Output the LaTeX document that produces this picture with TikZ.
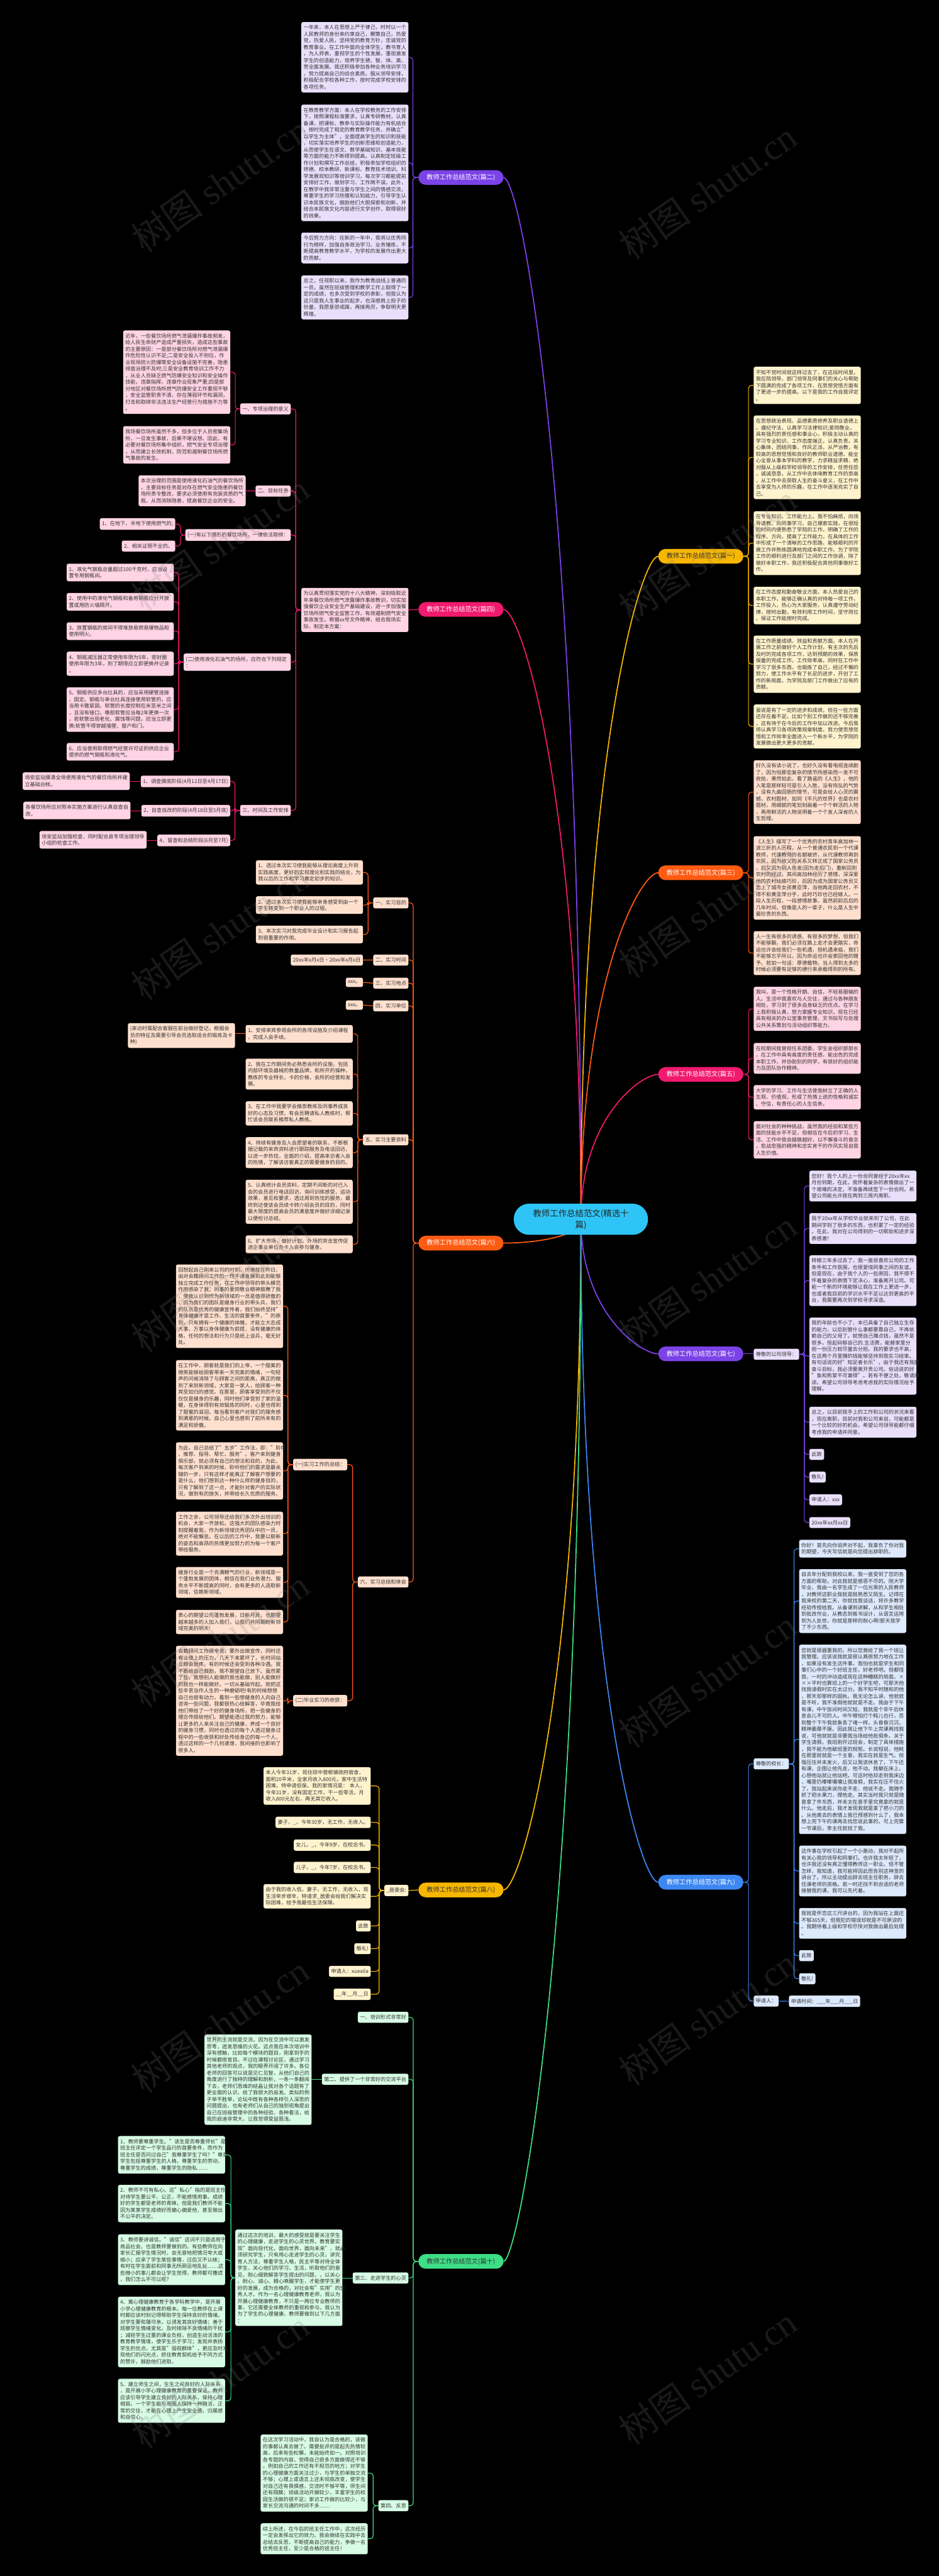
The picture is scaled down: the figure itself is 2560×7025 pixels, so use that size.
\documentclass[tikz,border=0pt]{standalone}
\usepackage{fontspec}
\setmainfont{Noto Sans CJK SC}
\newfontfamily\wmfont{Liberation Serif}
\usepackage{tikz}
\usetikzlibrary{calc}
\definecolor{mapink}{HTML}{333333}
\definecolor{mapcore}{HTML}{2EC5F6}
\definecolor{mappurple}{HTML}{7B42E8}
\definecolor{mappurplebg}{HTML}{E9DFFB}
\definecolor{mappink}{HTML}{F01A6E}
\definecolor{mappinkbg}{HTML}{FFD4E4}
\definecolor{maporange}{HTML}{FF5B12}
\definecolor{maporangebg}{HTML}{FFE0CF}
\definecolor{mapyellow}{HTML}{F7B600}
\definecolor{mapyellowbg}{HTML}{FFF3CE}
\definecolor{mapgreen}{HTML}{3DDE85}
\definecolor{mapgreenbg}{HTML}{D7FBE4}
\definecolor{mapblue}{HTML}{3C87F2}
\definecolor{mapbluebg}{HTML}{DDE9FC}
\newcommand\leaffont{\fontsize{14pt}{18pt}\selectfont}

\begin{document}
\begin{tikzpicture}[x=1pt,y=-1pt,line cap=round,line join=round,
  font=\leaffont,text=mapink,
  leaf/.style={rectangle,rounded corners=5pt,inner xsep=6pt,inner ysep=8.5pt,text width=280pt,align=left},
  tag/.style={rectangle,rounded corners=5pt,inner xsep=6pt,inner ysep=8.5pt},
  branch/.style={rectangle,rounded corners=20pt,minimum width=232pt,minimum height=40pt,inner sep=0pt,font=\fontsize{17.5pt}{20pt}\selectfont},
  wire/.style={line width=2pt,rounded corners=8pt},
  trunk/.style={line width=3pt},
  wmark/.style={rotate=35,text=gray,text opacity=.2,font=\fontsize{100pt}{100pt}\selectfont}]
\path[use as bounding box] (0,0) rectangle (2560,7025);
\fill[black] (0,0) rectangle (2560,7025);
\coordinate (c) at (1584,3325);

% 篇二
\node[branch,fill=mappurple,text=white] (p2) at (1257,484) {教师工作总结范文(篇二)};
\node[leaf,fill=mappurplebg,anchor=north east] (p2a) at (1114,60) {一年来，本人在思想上严于律己，时时以一个\\人民教师的身份来约束自己，鞭策自己，热爱\\党，热爱人民，坚持党的教育方针，忠诚党的\\教育事业。在工作中面向全体学生，教书育人\\，为人师表，重视学生的个性发展，重视激发\\学生的创造能力，培养学生德、智、体、美、\\劳全面发展。我还积极参加各种业务培训学习\\，努力提高自己的综合素质。服从领导安排，\\积极配合学校各种工作，按时完成学校安排的\\各项任务。};
\node[leaf,fill=mappurplebg,anchor=north east] (p2b) at (1114,285) {在教育教学方面：本人在学校教务的工作安排\\下，按照课程标准要求，认真专研教材，认真\\备课，把课标、教参与实际操作能力有机结合\\，按时完成了规定的教育教学任务，并确立"\\以学生为主体"，全面提高学生的知识和技能\\，切实落实培养学生的创新思维和创造能力，\\从而使学生在语文、数学基础知识、基本技能\\等方面的能力不断得到提高。认真制定班级工\\作计划和撰写工作总结，积极参加学校组织的\\师德、校本教研、新课标、教育技术培训、科\\学发展观知识等培训学习，每次学习都能提前\\安排好工作，做到学习、工作两不误。此外，\\在教学中我非常注重与学生之间的情感交流，\\尊重学生的学习热情和认知能力，引导学生认\\识本民族文化，鼓励他们大胆探索和创新，并\\结合本民族文化内容进行文学创作，取得很好\\的效果。};
\node[leaf,fill=mappurplebg,anchor=north east] (p2c) at (1114,634) {今后努力方向：在新的一年中，我将以优秀同\\行为榜样，加强自身政治学习、业务锤炼，不\\断提高教育教学水平，为学校的发展作出更大\\的贡献。};
\node[leaf,fill=mappurplebg,anchor=north east] (p2d) at (1114,751) {总之，任现职以来，我作为教育战线上普通的\\一员，虽然在班级管理和教学工作上取得了一\\定的成绩，也多次受到学校的表彰，但我认为\\这只是我人生事业的起步，也深感肩上担子的\\份量，我愿意骄戒躁，再接再厉，争取明天更\\辉煌。};
\foreach \n in {p2a,p2b,p2c,p2d}
  \draw[wire,mappurple] (p2.west) -- ++(-15,0) |- (\n.east);

% 篇四
\node[branch,fill=mappink,text=white] (p4) at (1257,1662) {教师工作总结范文(篇四)};
\node[leaf,fill=mappinkbg,anchor=north east] (p4m) at (1114,1603) {为认真贯彻落实党的十八大精神，深刻吸取近\\年来餐饮场所燃气泄露爆炸事故教训，切实加\\强餐饮企业安全生产基础建设，进一步加强餐\\饮场所燃气安全监管工作，有效遏制燃气安全\\事故发生。根据xx号文件精神，结合我场实\\际，制定本方案：};
\node[tag,fill=mappinkbg,anchor=north east] (p4s1) at (793,1100) {一、专项治理的意义};
\node[leaf,fill=mappinkbg,anchor=north east] (p4s1a) at (628,901) {近年，一些餐饮场所燃气泄漏爆炸事故频发，\\给人民生命财产造成严重损失，造成这些事故\\的主要原因：一是部分餐饮场所对燃气泄漏爆\\炸危险性认识不足;二是安全投入不到位，作\\业现场防火防爆等安全设备设施不完善，隐患\\排查治理不及时;三是安全教育培训工作不力\\，从业人员缺乏燃气防爆安全知识和安全操作\\技能，违章指挥、违章作业现象严重;四是部\\分地区对餐饮场所燃气防爆安全工作重视不够\\，安全监管职责不清、存在薄弱环节和漏洞，\\打击和取缔非法违法生产经营行为措施不力等\\。};
\node[leaf,fill=mappinkbg,anchor=north east] (p4s1b) at (628,1162) {我场餐饮场所虽然不多，但多位于人员密集场\\所，一旦发生事故，后果不堪设想。因此，有\\必要对餐饮场所集中组织，燃气安全专项治理\\，从而建立长效机制，防范和遏制餐饮场所燃\\气事故的发生。};
\node[tag,fill=mappinkbg,anchor=north east] (p4s2) at (793,1324) {二、目标任务};
\node[leaf,fill=mappinkbg,anchor=north east] (p4s2a) at (670,1296) {本次治理的范围是使用液化石油气的餐饮场所\\，主要目标任务是对存在燃气安全隐患的餐饮\\场所责令整改，要求必须使用有充装资质的气\\瓶，从而消除隐患，提高餐饮企业的安全。};
\node[tag,fill=mappinkbg,anchor=north east] (p4s3) at (793,1443) {(一)有以下情形的餐饮场所，一律依法取缔：};
\node[tag,fill=mappinkbg,anchor=north east] (p4s3a) at (478,1413) {1、在地下、半地下使用燃气的;};
\node[tag,fill=mappinkbg,anchor=north east] (p4s3b) at (478,1474) {2、相关证照不全的。};
\node[leaf,fill=mappinkbg,anchor=north east] (p4s4) at (793,1782) {(二)使用液化石油气的场所，应符合下列规定\\：};
\node[leaf,fill=mappinkbg,anchor=north east] (p4s4a) at (474,1537) {1、液化气钢瓶总量超过100千克时，应当设\\置专用钢瓶间。};
\node[leaf,fill=mappinkbg,anchor=north east] (p4s4b) at (474,1617) {2、使用中的液化气钢瓶和备用钢瓶应分开放\\置或用防火墙隔开。};
\node[leaf,fill=mappinkbg,anchor=north east] (p4s4c) at (474,1697) {3、放置钢瓶的房间不得堆放易燃易爆物品和\\使用明火。};
\node[leaf,fill=mappinkbg,anchor=north east] (p4s4d) at (474,1777) {4、钢瓶减压器正常使用年限为5年，密封圈\\使用年限为3年，到了期限应立即更换并记录\\。};
\node[leaf,fill=mappinkbg,anchor=north east] (p4s4e) at (474,1874) {5、钢瓶供应多台灶具的，应当采用硬管连接\\、固定。钢瓶与单台灶具连接使用软管的，应\\当用卡箍紧固，软管的长度控制在米至米之间\\，且没有接口，橡胶软管应当每2年更换一次\\，若软管出现老化、腐蚀等问题，应当立即更\\换;软管不得穿越墙壁、窗户和门。};
\node[leaf,fill=mappinkbg,anchor=north east] (p4s4f) at (474,2026) {6、应当使用取得燃气经营许可证的供应企业\\提供的燃气钢瓶和液化气。};
\node[tag,fill=mappinkbg,anchor=north east] (p4s5) at (793,2195) {三、时间及工作安排};
\node[tag,fill=mappinkbg,anchor=north east] (p4s5a) at (628,2115) {1、调查摸底阶段(4月12日至4月17日)};
\node[tag,fill=mappinkbg,anchor=north east] (p4s5b) at (628,2195) {2、自查自改的阶段(4月18日至5月底)};
\node[tag,fill=mappinkbg,anchor=north east] (p4s5c) at (628,2276) {4、督查和总结阶段(6月至7月)};
\node[leaf,fill=mappinkbg,anchor=north east] (p4s5aa) at (354,2106) {场安监站摸清全场使用液化气的餐饮场所并建\\立基础台帐。};
\node[leaf,fill=mappinkbg,anchor=north east] (p4s5ba) at (356,2186) {各餐饮场所应对照本实施方案进行认真自查自\\改。};
\node[leaf,fill=mappinkbg,anchor=north east] (p4s5ca) at (400,2266) {场安监站加强检查，同时配合县专项治理领导\\小组的检查工作。};
\draw[wire,mappink] (p4.west) -- (p4m.east);
\foreach \n in {p4s1,p4s2,p4s3,p4s4,p4s5}
  \draw[wire,mappink] (p4m.west) -- ++(-15,0) |- (\n.east);
\foreach \n in {p4s1a,p4s1b}
  \draw[wire,mappink] (p4s1.west) -- ++(-13,0) |- (\n.east);
\draw[wire,mappink] (p4s2.west) -- (p4s2a.east);
\foreach \n in {p4s3a,p4s3b}
  \draw[wire,mappink] (p4s3.west) -- ++(-13,0) |- (\n.east);
\foreach \n in {p4s4a,p4s4b,p4s4c,p4s4d,p4s4e,p4s4f}
  \draw[wire,mappink] (p4s4.west) -- ++(-13,0) |- (\n.east);
\foreach \n in {p4s5a,p4s5b,p4s5c}
  \draw[wire,mappink] (p4s5.west) -- ++(-14,0) |- (\n.east);
\draw[wire,mappink] (p4s5a.west) -- (p4s5a.west -| p4s5aa.east);
\draw[wire,mappink] (p4s5b.west) -- (p4s5b.west -| p4s5ba.east);
\draw[wire,mappink] (p4s5c.west) -- (p4s5c.west -| p4s5ca.east);

% 篇六
\node[branch,fill=maporange,text=white] (p6) at (1257,3390) {教师工作总结范文(篇六)};
\node[tag,fill=maporangebg,anchor=north east] (p6s1) at (1114,2447) {一、实习目的};
\node[leaf,fill=maporangebg,anchor=north east] (p6s1a) at (990,2346) {1、透过本次实习使我能够从理论高度上升到\\实践高度，更好的实现理论和实践的结合，为\\我以后的工作和学习奠定初步的知识。};
\node[leaf,fill=maporangebg,anchor=north east] (p6s1b) at (990,2444) {2、透过本次实习使我能够亲身感受到由一个\\学生转变到一个职业人的过程。};
\node[leaf,fill=maporangebg,anchor=north east] (p6s1c) at (990,2524) {3、本次实习对我完成毕业设计和实习报告起\\到很重要的作用。};
\node[tag,fill=maporangebg,anchor=north east] (p6s2) at (1114,2603) {二、实习时间};
\node[tag,fill=maporangebg,anchor=north east] (p6s2a) at (990,2603) {20xx年x月x日 \textasciitilde{} 20xx年x月x日};
\node[tag,fill=maporangebg,anchor=north east] (p6s3) at (1114,2666) {三、实习地点};
\node[tag,fill=maporangebg,anchor=north east] (p6s3a) at (990,2666) {xxx。};
\node[tag,fill=maporangebg,anchor=north east] (p6s4) at (1114,2728) {四、实习单位};
\node[tag,fill=maporangebg,anchor=north east] (p6s4a) at (990,2728) {xxx。};
\node[tag,fill=maporangebg,anchor=north east] (p6s5) at (1114,3093) {五、实习主要资料};
\node[leaf,fill=maporangebg,anchor=north east] (p6s5a) at (962,2795) {1、安排来宾参观会所的各项设施及介绍课程\\，完成入会手续。};
\node[leaf,fill=maporangebg,anchor=north east] (p6s5aa) at (641,2790) {(来访时需配合客服在前台做好登记，根据会\\员的特征及需要引导会员选取适合的锻炼及卡\\种)};
\node[leaf,fill=maporangebg,anchor=north east] (p6s5b) at (962,2887) {2、我在工作期间务必熟悉会所的设施，包括\\内部环境及器械的数量品牌，和所开的操种，\\教练的专业特长，卡的价格，会所的经营和发\\展。};
\node[leaf,fill=maporangebg,anchor=north east] (p6s5c) at (962,3003) {3、在工作中我要学会推崇教练及同事养成良\\好的心态及习惯，有会员聘请私人教练时，帮\\忙该会员联系推荐私人教练。};
\node[leaf,fill=maporangebg,anchor=north east] (p6s5d) at (962,3101) {4、持续有健身及入会愿望者的联系，不断根\\据记载的来宾资料进行跟踪服务及电话回访，\\以进一步热忱，全面的介绍，提高来访者入会\\的热情，了解该访客真正的需要健身的目的。};
\node[leaf,fill=maporangebg,anchor=north east] (p6s5e) at (962,3217) {5、认真统计会员资料，定期不间断的对已入\\会的会员进行电话回访，询问训练感受，运动\\效果，意见和要求，透过周到热忱的服务，最\\终到达使该会员续卡转介绍会员的目的，同时\\最大限度的提高会员的满意度并做好详细记录\\以便检讨总结。};
\node[leaf,fill=maporangebg,anchor=north east] (p6s5f) at (962,3369) {6、扩大市场，做好计划，外场的突击宣传促\\进企事业单位办卡入会参与健身。};
\node[tag,fill=maporangebg,anchor=north east] (p6s6) at (1114,4299) {六、实习总结和体会};
\node[tag,fill=maporangebg,anchor=north east] (p6s6a) at (947,3978) {(一)实习工作的总结：};
\node[leaf,fill=maporangebg,anchor=north east] (p6s6aa) at (772,3448) {回想起自己刚来公司的时刻，仿佛就在昨日。\\由对会籍顾问工作的一窍不通发展到此刻能够\\独立完成工作任务，在工作中领导的带头模范\\作用感染了我，同事的爱岗敬业精神鼓舞了我\\，使我认识到作为新领域的一员是值得骄傲的\\，因为我们的团队是健身行业的带头兵，我们\\的队员是优秀的健康宣传者，我们始终坚持"\\身体健康才是工作、生活的首要条件，"的原\\则，只有拥有一个健康的体魄，才能立大志成\\大事，万事以身体健康为前提，没有健康的体\\格，任何的想法和行为只是纸上谈兵，毫无好\\处。};
\node[leaf,fill=maporangebg,anchor=north east] (p6s6ab) at (772,3709) {在工作中，顾客就是我们的上帝，一个甜美的\\微笑能够给顾客带来一天完美的情绪，一句轻\\声的问候消除了与顾客之间的距离，真正的做\\到了来到新领域，大家是一家人，给顾客一种\\宾至如归的感觉。在那里，顾客享受到的不仅\\仅仅是健身的乐趣，同时他们享受到了家的温\\暖，在身体得到有效锻炼的同时，心里也得到\\了甜蜜的滋润，每当看到客户对我们的服务感\\到满意的时候，自己心里也感到了前所未有的\\满足和骄傲。};
\node[leaf,fill=maporangebg,anchor=north east] (p6s6ac) at (772,3933) {为此，自己总结了"五步"工作法，即："聆听\\、推荐、指导、帮忙、服务"。客户来到健身\\俱乐部，就必须有自己的想法和目的，为此，\\每次客户到来的时候，聆听他们的需求是最关\\键的一步，只有这样才能真正了解客户想要的\\是什么，他们想到达一种什么样的健身目的，\\只有了解到了这一点，才能针对客户的实际状\\况，做到有的放矢，并带给长久优质的服务。};
\node[leaf,fill=maporangebg,anchor=north east] (p6s6ad) at (772,4122) {工作之余，公司领导还给我们多次外出培训的\\机会，大家一齐放松。这强大的团队感染力时\\刻提醒着我，作为新领域优秀团队中的一员，\\绝对不能懈怠。在以后的工作中，我要以崭新\\的姿态和高昂的热情更加努力的为每一个客户\\带给服务。};
\node[leaf,fill=maporangebg,anchor=north east] (p6s6ae) at (772,4273) {健身行业是一个充满朝气的行业，新领域是一\\个蓬勃发展的团体，相信在我们业务潜力、服\\务水平不断提高的同时，会有更多的人选取新\\领域，信赖新领域。};
\node[leaf,fill=maporangebg,anchor=north east] (p6s6af) at (772,4390) {衷心的期望公司蓬勃发展，日新月异，也期望\\越来越多的人加入我们，让我们共同期盼新领\\域完美的明天!};
\node[tag,fill=maporangebg,anchor=north east] (p6s6b) at (947,4622) {(二)毕业实习的收获：};
\node[leaf,fill=maporangebg,anchor=north east] (p6s6ba) at (772,4488) {会籍顾问工作很辛苦，要外出做宣传，同时还\\有业绩上的压力，几天下来累坏了，长时间站\\立脚会很疼。有的时候还会受到各种冷遇。我\\不断给自己鼓励，我不期望自己放下。虽然累\\了些，我想别人能做的我也能做，别人能做好\\的我也一样能做好。一切从基础作起。就把这\\些辛苦当作人生的一种磨砺吧!有的时候想想\\自己也很有动力，看到一些想健身的人向自己\\咨询一些问题，我都很热心给解答，毕竟我给\\他们带给了一个好的健身场所，把一些健身的\\理念传授给他们。期望能透过我的努力，能够\\让更多的人来关注自己的健康，养成一个良好\\的健身习惯，同时也透过的每个人透过健身过\\程中的一些收获和好处传给身边的每一个人，\\透过这样的一个几何递增，我间接的也影响了\\很多人。};
\foreach \n in {p6s1,p6s2,p6s3,p6s4,p6s5,p6s6}
  \draw[wire,maporange] (p6.west) -- ++(-14,0) |- (\n.east);
\foreach \n in {p6s1a,p6s1b,p6s1c}
  \draw[wire,maporange] (p6s1.west) -- ++(-14,0) |- (\n.east);
\draw[wire,maporange] (p6s2.west) -- (p6s2a.east);
\draw[wire,maporange] (p6s3.west) -- (p6s3a.east);
\draw[wire,maporange] (p6s4.west) -- (p6s4a.east);
\foreach \n in {p6s5a,p6s5b,p6s5c,p6s5d,p6s5e,p6s5f}
  \draw[wire,maporange] (p6s5.west) -- ++(-14,0) |- (\n.east);
\draw[wire,maporange] (p6s5a.west) -- (p6s5a.west -| p6s5aa.east);
\foreach \n in {p6s6a,p6s6b}
  \draw[wire,maporange] (p6s6.west) -- ++(-14,0) |- (\n.east);
\foreach \n in {p6s6aa,p6s6ab,p6s6ac,p6s6ad,p6s6ae,p6s6af}
  \draw[wire,maporange] (p6s6a.west) -- ++(-14,0) |- (\n.east);
\draw[wire,maporange] (p6s6b.west) -- ++(-14,0) |- (p6s6ba.east);

% 篇八
\node[branch,fill=mapyellow] (p8) at (1257,5154) {教师工作总结范文(篇八)};
\node[tag,fill=mapyellowbg,anchor=north east] (p8s) at (1114,5140) {\_居委会:};
\node[leaf,fill=mapyellowbg,anchor=north east] (p8sa) at (1011,4819) {本人今年31岁，现住琼中营根镇政府宿舍，\\面积20平米，全家月收入800元，家中生活特\\困难，特申请低保。我的家情况是： 本人，\\今年31岁，没有固定工作，干一些零活，月\\收入800元左右，再无其它收入。};
\node[tag,fill=mapyellowbg,anchor=north east] (p8sb) at (1011,4954) {妻子，\_，今年30岁，无工作，无收入。};
\node[tag,fill=mapyellowbg,anchor=north east] (p8sc) at (1011,5016) {女儿，\_，今年9岁，在校念书。};
\node[tag,fill=mapyellowbg,anchor=north east] (p8sd) at (1011,5077) {儿子，\_，今年7岁，在校念书。};
\node[leaf,fill=mapyellowbg,anchor=north east] (p8se) at (1011,5138) {由于我的收入低，妻子，无工作，无收入，现\\生活举步艰辛，特请求\_居委会给我们解决实\\际困难，给予我最低生活保障。};
\node[tag,fill=mapyellowbg,anchor=north east] (p8sf) at (1011,5237) {此致};
\node[tag,fill=mapyellowbg,anchor=north east] (p8sg) at (1011,5299) {敬礼!};
\node[tag,fill=mapyellowbg,anchor=north east] (p8sh) at (1011,5361) {申请人：xuexila};
\node[tag,fill=mapyellowbg,anchor=north east] (p8si) at (1011,5423) {\_\_年\_\_月\_\_日};
\draw[wire,mapyellow] (p8.west) -- (p8s.east);
\foreach \n in {p8sa,p8sb,p8sc,p8sd,p8se,p8sf,p8sg,p8sh,p8si}
  \draw[wire,mapyellow] (p8s.west) -- ++(-14,0) |- (\n.east);

% 篇十
\node[branch,fill=mapgreen] (p10) at (1257,6167) {教师工作总结范文(篇十)};
\node[tag,fill=mapgreenbg,anchor=north east] (p10s1) at (1114,5486) {一、培训形式非常好};
\node[tag,fill=mapgreenbg,anchor=north east] (p10s2) at (1114,5655) {第二、提供了一个非常好的交流平台};
\node[leaf,fill=mapgreenbg,anchor=north east] (p10s2a) at (850,5548) {世界的主流就是交流，因为在交流中可以激发\\思考，迸发思维的火花。这点我在本次培训中\\深有感触，比如每个模块的题目，刚拿到手的\\时候都很盲目，不过在课程讨论区，通过学习\\其他老师的观点，我的眼界开阔了许多。各位\\老师的回答可以说是见仁见智，从他们自己的\\角度进行了独特的理解和剖析，一条一条翻阅\\下去，老师们思维的结晶让我对各个话题有了\\更全面的认识，给了我很大的启发。类似的例\\子举不胜举，论坛中既有各种各样引人深思的\\问题提出，也有老师们从自己的独到视角提出\\自己在班级管理中的各种经验，各种看法，给\\我的启迪非常大，让我觉得受益匪浅。};
\node[tag,fill=mapgreenbg,anchor=north east] (p10s3) at (1114,6197) {第三、走进学生的心灵};
\node[leaf,fill=mapgreenbg,anchor=north east] (p10s3a) at (934,6080) {通过这次的培训，最大的感受就是要关注学生\\的心理健康，走进学生的心灵世界。教育要实\\现"面向现代化，面向世界，面向未来"，就必\\须研究学生，只有用心走进学生的心灵，讲究\\育人方法，尊重学生人格，民主平等对待全体\\学生，关心他们的学习、生活，听取他们的意\\见，耐心细致解答学生提出的问题，，以关心\\、耐心、诚心、精心唤醒学生，才能使学生更\\好的发展，成为合格的，对社会有"实用"的优\\秀人才。作为一名心理健康教育老师，我认为\\开展心理健康教育，不只是一两位专业教师的\\事，它还需要全体教师的重视和参与。我认为\\为了学生的心理健康，教师要做到以下几方面\\：};
\node[leaf,fill=mapgreenbg,anchor=north east] (p10s3aa) at (614,5825) {1、教师要尊重学生。"该生是否尊重师长"是\\班主任评定一个学生品行的首要条件，而作为\\班主任是否问过自己"我尊重学生了吗？"尊重\\学生包括尊重学生的人格，尊重学生的劳动，\\尊重学生的成绩，尊重学生的隐私……};
\node[leaf,fill=mapgreenbg,anchor=north east] (p10s3ab) at (614,5958) {2、教师不可有私心。这"私心"指的是班主任\\对待学生要公平、公正，不能感情用事。成绩\\好的学生都受老师的青睐，但是我们教师不能\\因为某某学生成绩好而偏心偏爱他，甚至做出\\不公平的决定。};
\node[leaf,fill=mapgreenbg,anchor=north east] (p10s3ac) at (614,6093) {3、教师要讲诚信。"诚信"这词不只是适用于\\商品社会，也是教师要做到的。有些教师在向\\家长汇报学生情况时，会无意地把情况夸大或\\缩小；应承了学生某些事情，过后又不认帐；\\有时在学生面前和同事无所顾忌地乱扯……这\\些微小的事儿都会让学生觉得，教师都可撒谎\\，我们怎么不可以呢？};
\node[leaf,fill=mapgreenbg,anchor=north east] (p10s3ad) at (614,6263) {4、寓心理健康教育于各学科教学中，是开展\\小学心理健康教育的根本。每一位教师在上课\\时都应该时刻记得帮助学生保持良好的情绪。\\对学生要和蔼可亲，以诱发其良好情绪；善于\\观察学生情绪变化，及时排除不良情绪的干扰\\；减轻学生过重的课业负担，创造生动活泼的\\教育教学情境，使学生乐于学习；发现并表扬\\学生的优点，尤其是"弱视群体"，更应及时发\\现他们的闪光点，抓住教育契机给予不同方式\\的赞许，鼓励他们进取。};
\node[leaf,fill=mapgreenbg,anchor=north east] (p10s3ae) at (614,6487) {5、建立师生之间，生生之间良好的人际关系\\，是开展小学心理健康教育的重要保证。教师\\应该引导学生建立良好的人际关系，保持心理\\相容。一个学生能与周围人保持一种融洽，正\\常的交往，才能在心理上产生安全感，归属感\\和自信心。};
\node[tag,fill=mapgreenbg,anchor=north east] (p10s4) at (1114,6818) {第四、反思};
\node[leaf,fill=mapgreenbg,anchor=north east] (p10s4a) at (1003,6639) {在这次学习活动中，我自认为是合格的，该做\\的事都认真去做了。需要批评的是起先热情较\\高，后来有些松懈，未能始终如一。对照培训\\各专题的内容，觉得自己很多方面做得还不够\\。例如自己的工作还有不规范的地方；对学生\\的心理健康方面关注过少，与学生的单独交流\\不够；心理上或语言上还未彻底改变，使学生\\对自己还有畏惧感，交流时不够平等，师生间\\还有隔膜；班级活动开展较少，丰富学生的校\\园生活做的很不足；家访工作做的比较少，与\\家长交流沟通的时间不多……};
\node[leaf,fill=mapgreenbg,anchor=north east] (p10s4b) at (1003,6881) {综上所述，在今后的班主任工作中，这次经历\\一定会发挥出它的效力。我会继续在实践中去\\总结去反思，不断提高自己的能力，争做一名\\优秀班主任，至少是合格的班主任！};
\foreach \n in {p10s1,p10s2,p10s3,p10s4}
  \draw[wire,mapgreen] (p10.west) -- ++(-14,0) |- (\n.east);
\draw[wire,mapgreen] (p10s2.west) -- (p10s2.west -| p10s2a.east);
\draw[wire,mapgreen] (p10s3.west) -- (p10s3.west -| p10s3a.east);
\foreach \n in {p10s3aa,p10s3ab,p10s3ac,p10s3ad,p10s3ae}
  \draw[wire,mapgreen] (p10s3a.west) -- ++(-12,0) |- (\n.east);
\foreach \n in {p10s4a,p10s4b}
  \draw[wire,mapgreen] (p10s4.west) -- ++(-14,0) |- (\n.east);

% 篇一
\node[branch,fill=mapyellow] (p1) at (1911,1517) {教师工作总结范文(篇一)};
\node[leaf,fill=mapyellowbg,anchor=north west] (p1a) at (2055,1000) {不知不觉时间就这样过去了，在这段时间里，\\我在院领导、部门领导及同事们的关心与帮助\\下圆满的完成了各项工作，在思想觉悟方面有\\了更进一步的提高。以下是我的工作自我评定\\。};
\node[leaf,fill=mapyellowbg,anchor=north west] (p1b) at (2055,1133) {在思想政治表现、品德素质修养及职业道德上\\。遵纪守法，认真学习法律知识;爱岗敬业，\\具有强烈的责任感和事业心，积极主动认真的\\学习专业知识，工作态度端正，认真负责。关\\心集体，团结同事，作风正派，从严治教，有\\较高的思想觉悟和良好的教师职业道德。能全\\心全意从事本学科的教学，力求精益求精，绝\\对服从上级和学校领导的工作安排，任劳任怨\\，诚诚恳恳，从工作中去体味教育工作的崇高\\，从工作中去获取人生的奋斗意义，在工作中\\去享受为人师的乐趣，在工作中逐渐充实了自\\己。};
\node[leaf,fill=mapyellowbg,anchor=north west] (p1c) at (2055,1394) {在专业知识、工作能力上。我不怕麻烦，向领\\导请教、向同事学习、自己摸索实践，在很短\\的时间内便熟悉了学院的工作，明确了工作的\\程序、方向，提高了工作能力，在具体的工作\\中形成了一个清晰的工作思路，能够顺利的开\\展工作并熟练圆满地完成本职工作。为了学院\\工作的顺利进行及部门之间的工作协调，除了\\做好本职工作，我还积极配合其他同事做好工\\作。};
\node[leaf,fill=mapyellowbg,anchor=north west] (p1d) at (2055,1600) {在工作态度和勤奋敬业方面。本人热爱自己的\\本职工作，能够正确认真的对待每一项工作，\\工作投入，热心为大家服务，认真遵守劳动纪\\律，按时出勤，有效利用工作时间，坚守岗位\\，保证工作能按时完成。};
\node[leaf,fill=mapyellowbg,anchor=north west] (p1e) at (2055,1733) {在工作质量成绩、效益和贡献方面。本人在开\\展工作之前做好个人工作计划，有主次的先后\\及时的完成各项工作，达到预期的效果，保质\\保量的完成工作，工作效率高，同时在工作中\\学习了很多东西，也锻炼了自己，经过不懈的\\努力，使工作水平有了长足的进步，开创了工\\作的新局面，为学院及部门工作做出了应有的\\贡献。};
\node[leaf,fill=mapyellowbg,anchor=north west] (p1f) at (2055,1921) {虽说是有了一定的进步和成绩，但在一些方面\\还存在着不足。比如个别工作做的还不够完善\\，这有待于在今后的工作中加以改进。今后我\\将认真学习各项政策规章制度，努力使思想觉\\悟和工作效率全面进入一个新水平，为学院的\\发展做出更大更多的贡献。};
\foreach \n in {p1a,p1b,p1c,p1d,p1e,p1f}
  \draw[wire,mapyellow] (p1.east) -- ++(14,0) |- (\n.west);

% 篇三
\node[branch,fill=maporange,text=white] (p3) at (1911,2380) {教师工作总结范文(篇三)};
\node[leaf,fill=maporangebg,anchor=north west] (p3a) at (2055,2073) {好久没有读小说了，也好久没有看电视连续剧\\了，因为怕那些复杂的情节所感染而一发不可\\收拾，果然如此，看了路遥的《人生》，他的\\入笔是那样轻可是引人入胜，没有恢弘的气势\\，没有九曲回肠的情节，可是会给人心灵的震\\撼，农村题材，如同《平凡的世界》也是农村\\题材，用细腻的笔划刻画着一个个鲜活的人物\\，再用鲜活的人物说明着一个个发人深省的人\\生哲理。};
\node[leaf,fill=maporangebg,anchor=north west] (p3b) at (2055,2280) {《人生》描写了一个优秀的农村青年高加林一\\波三折的人历程，从一个普通农民到一个代课\\教师，代课教师的名额被挤，从代课教师再到\\农民，因为叔父的关系又转正成了国家公务员\\，后又因为别人告发(因为走后门)，重新回到\\农村的经过。其间高加林经历了感情，深深爱\\他的农村姑娘巧珍，后因为成为国家公务员又\\恋上了城市女孩黄亚萍，当他再走回农村，不\\得不和黄亚萍分手，此时巧珍也已经嫁人。一\\段人生历程，一段感情故事，虽然前前后后的\\几年时间，但像是人的一辈子，什么是人生中\\最珍贵的东西。};
\node[leaf,fill=maporangebg,anchor=north west] (p3c) at (2055,2539) {人一生有很多的诱惑、有很多的梦想，但我们\\不能够飘，我们必须在路上走才会更踏实，命\\运也许会给我们一些机遇，但机遇来临，我们\\不能够忘乎所以，因为命运也许会索回他的赠\\予。就如一句话：厚德载物。当人得到太多的\\时候必须要有足够的德行来承载得到的所有。};
\foreach \n in {p3a,p3b,p3c}
  \draw[wire,maporange] (p3.east) -- ++(14,0) |- (\n.west);

% 篇五
\node[branch,fill=mappink,text=white] (p5) at (1911,2930) {教师工作总结范文(篇五)};
\node[leaf,fill=mappinkbg,anchor=north west] (p5a) at (2055,2691) {我叫，是一个性格开朗、自信，不轻易服输的\\人。生活中我喜欢与人交往，通过与各种朋友\\相处，学习到了很多自身缺乏的优点。在学习\\上我积极认真，努力掌握专业知识，现在已经\\具有相关的办公室事务管理、文书拟写与处理\\公共关系策划与活动组织等能力。};
\node[leaf,fill=mappinkbg,anchor=north west] (p5b) at (2055,2844) {在校期间我曾担任系团委、学生会组织部部长\\，在工作中具有高度的责任感，能出色的完成\\本职工作，并协助别的同学，有很好的组织能\\力及团队协作精神。};
\node[leaf,fill=mappinkbg,anchor=north west] (p5c) at (2055,2959) {大学的学习、工作与生活使我树立了正确的人\\生观、价值观，形成了热情上进的性格和诚实\\、守信，有责任心的人生信条。};
\node[leaf,fill=mappinkbg,anchor=north west] (p5d) at (2055,3057) {面对社会的种种挑战，虽然我的经验和某些方\\面的技能水平不足，但相信在今后的学习、生\\活、工作中我会越做越好，以不懈奋斗的意念\\，愈战愈强的精神和忠实肯干的作风实现自我\\人生价值。};
\foreach \n in {p5a,p5b,p5c,p5d}
  \draw[wire,mappink] (p5.east) -- ++(14,0) |- (\n.west);

% 篇七
\node[branch,fill=mappurple,text=white] (p7) at (1911,3692) {教师工作总结范文(篇七)};
\node[tag,fill=mappurplebg,anchor=north west] (p7s) at (2055,3678) {尊敬的公司领导：};
\node[leaf,fill=mappurplebg,anchor=north west] (p7sa) at (2207,3192) {您好！我个人的上一份合同曾经于20xx年xx\\月份到期，在此，我怀着复杂的表情做出了一\\个艰难的决定，不准备再续签下一份合同。希\\望公司能允许我在两到三周内离职。};
\node[leaf,fill=mappurplebg,anchor=north west] (p7sb) at (2207,3308) {我于20xx年从学校毕业就来到了公司，在此\\期间学到了很多的东西，也积累了一定的经验\\。在此，我对在公司得到的一切帮助和进步深\\表感激！};
\node[leaf,fill=mappurplebg,anchor=north west] (p7sc) at (2207,3423) {转眼三年多过去了，我一直很喜欢公司的工作\\条件和工作氛围，也很爱惜同事之间的友谊。\\但是现在，由于我个人的一些原因，我不得不\\怀着复杂的表情下定决心，准备离开公司。可\\能一个新的环境能够让我在工作上更进一步，\\也或者我目前的学识水平不足以达到更高的平\\台，我需要再次到学校寻求深造。};
\node[leaf,fill=mappurplebg,anchor=north west] (p7sd) at (2207,3593) {我的年龄也不小了，本已具备了自己独立生存\\的能力，以后别管什么事都要靠自己，不再依\\赖自己的父母了。就想自己赚点钱，虽然不是\\很多，但起码够自己的.生活费，能替家里分\\担一份压力就尽量去分担。我的要求也不高，\\在这两个月里赚的钱能够坚持到我实习结束。\\有句话说的好"知足者长乐"。由于我还有我的\\奋斗目标，我必须要离开贵公司。俗话说的好\\"鱼和熊掌不可兼得"。若有不便之处，敬请原\\谅。希望公司领导考虑考虑我的实际情况给予\\理解。};
\node[leaf,fill=mappurplebg,anchor=north west] (p7se) at (2207,3836) {总之，以目前我手上的工作和公司的状况来看\\，现在离职，目前对我和公司来说，可能都是\\一个比较的好的机会。希望公司领导能都仔细\\考虑我的申请并同意。};
\node[tag,fill=mappurplebg,anchor=north west] (p7sf) at (2207,3951) {此致};
\node[tag,fill=mappurplebg,anchor=north west] (p7sg) at (2207,4013) {敬礼!};
\node[tag,fill=mappurplebg,anchor=north west] (p7sh) at (2207,4075) {申请人：xxx};
\node[tag,fill=mappurplebg,anchor=north west] (p7si) at (2207,4137) {20xx年xx月xx日};
\draw[wire,mappurple] (p7.east) -- (p7.east -| p7s.west);
\foreach \n in {p7sa,p7sb,p7sc,p7sd,p7se,p7sf,p7sg,p7sh,p7si}
  \draw[wire,mappurple] (p7s.east) -- ++(14,0) |- (\n.west);

% 篇九
\node[branch,fill=mapblue,text=white] (p9) at (1911,5133) {教师工作总结范文(篇九)};
\node[tag,fill=mapbluebg,anchor=north west] (p9s1) at (2055,4795) {尊敬的校长：};
\node[leaf,fill=mapbluebg,anchor=north west] (p9s1a) at (2179,4199) {你好！首先向你说声对不起，我辜负了你对我\\的期望，今天写信就是向您提出辞职的。};
\node[leaf,fill=mapbluebg,anchor=north west] (p9s1b) at (2179,4279) {自去年分配到我校以来，我一直受到了您的各\\方面的帮助，对此我就是感恩不尽的。刚大学\\毕业，我由一名学生成了一位光荣的人民教师\\，对教师这职业我就是既熟悉又陌生。记得在\\我来校的第二天，你就找我谈话，将许多教学\\经验传授给我。从备课到讲解，从和学生相处\\到批改作业，从教态到板书设计，从语言运用\\到为人处世，你就是那样的耐心啊!那天我学\\了不少东西。};
\node[leaf,fill=mapbluebg,anchor=north west] (p9s1c) at (2179,4485) {您就是很器重我的，所以您竟给了我一个班让\\我管理。应该说我就是很认真很努力地在工作\\，如果没有发生这件事，我怕也就是学生和同\\事们心中的一个好班主任，好老师吧。但都怪\\我，一时的冲动造成现在这种糟糕的局面。×\\××平时也算班上的一个好学生吧，可那天他\\找我请假时实在太过分。我不知平时随和的他\\，那天却那样的固执。我无论怎么讲，他就就\\是不听，我不准假他就就是不走。我由于下午\\有课，中午饭间时间又短，我就是个非午后休\\息会儿不可的人。中午哪怕打个盹儿也行，否\\则整个下午我就象丢了魂一样，头昏昏沉沉，\\精神萎靡不振。因此我让他下午上完课再找我\\说，可他就就是非要我当场给他批假条。关于\\学生请假，我班刚开过班会，制定了具体措施\\，我不能为他破班里的规矩。长说短说，他耗\\在那里就就是一个主意，我实在就是生气。但\\强压住并未发火，后又以我该休息了，下午还\\有课，企图让他先走，他不动。我躺在床上，\\心想他站就让他站吧。可这时他却走到我床边\\，嘴里仍嘟嘟嚷嚷让我准假，我实在压不住火\\了。我站起来说你走不走，他说不走。我随手\\抓了把水果刀，撵他走。其实当时我只就是随\\意拿了件东西，并未太在意手里究竟拿的就是\\什么。他走后，我才发现我就是拿了把小刀的\\。从他离去的表情上我已预感到什么了，我本\\想上完下午的课再去找您说此事的。可上完第\\一节课后，李主任就找了我。};
\node[leaf,fill=mapbluebg,anchor=north west] (p9s1d) at (2179,5033) {这件事在学校引起了一个小轰动，我对不起所\\有关心我的领导和同事们。也许我太年轻了，\\也许我还没有真正懂得教师这一职业。但不管\\怎样，我知道，我可能将因此而告别这神圣的\\讲台了。所以主动提出辞去班主任职务，辞去\\任课老师的资格。若一时还找不到合适的老师\\接替我的课，我可以先代着。};
\node[leaf,fill=mapbluebg,anchor=north west] (p9s1e) at (2179,5203) {我就是怀恋这三尺讲台的，因为我站在上面还\\不够365天，但我犯的错误却就是不可原谅的\\。我期待着上级和学校尽快对我做出最后处理\\。};
\node[tag,fill=mapbluebg,anchor=north west] (p9s1f) at (2179,5318) {此致};
\node[tag,fill=mapbluebg,anchor=north west] (p9s1g) at (2179,5381) {敬礼!};
\node[tag,fill=mapbluebg,anchor=north west] (p9s2) at (2055,5442) {申请人：};
\node[tag,fill=mapbluebg,anchor=north west] (p9s2a) at (2151,5442) {申请时间：\_\_\_年\_\_\_月\_\_\_日};
\foreach \n in {p9s1,p9s2}
  \draw[wire,mapblue] (p9.east) -- ++(14,0) |- (\n.west);
\foreach \n in {p9s1a,p9s1b,p9s1c,p9s1d,p9s1e,p9s1f,p9s1g}
  \draw[wire,mapblue] (p9s1.east) -- ++(14,0) |- (\n.west);
\draw[wire,mapblue] (p9s2.east) -- (p9s2a.west);

% 中心到各篇
\draw[trunk,mappurple] (c) .. controls (1584,1336) and (1420,484) .. (p2.east);
\draw[trunk,mappink] (c) .. controls (1584,2161) and (1420,1662) .. (p4.east);
\draw[trunk,maporange] (c) .. controls (1584,3375) and (1450,3390) .. (p6.east);
\draw[trunk,mapyellow] (c) .. controls (1584,4605) and (1420,5154) .. (p8.east);
\draw[trunk,mapgreen] (c) .. controls (1584,5314) and (1412,6167) .. (p10.east);
\draw[trunk,mapyellow] (c) .. controls (1584,2059) and (1748,1517) .. (p1.west);
\draw[trunk,maporange] (c) .. controls (1584,2663) and (1748,2380) .. (p3.west);
\draw[trunk,mappink] (c) .. controls (1584,3048) and (1748,2930) .. (p5.west);
\draw[trunk,mappurple] (c) .. controls (1584,3582) and (1748,3692) .. (p7.west);
\draw[trunk,mapblue] (c) .. controls (1584,4591) and (1748,5133) .. (p9.west);
\node[rectangle,rounded corners=42pt,fill=mapcore,minimum width=366pt,minimum height=85pt,
  align=center,text=black!85,font=\fontsize{23pt}{31pt}\selectfont] (core) at (c) {教师工作总结范文(精选十\\篇)};

% 水印
\foreach \y in {500,1480,2540,3500,4470,5520,6490}
  \node[wmark] (wl\y) at (600,\y) {树图 {\wmfont shutu.cn}};
\foreach \y in {520,1510,2480,3490,4580,5500,6480}
  \node[wmark] (wr\y) at (1930,\y) {树图 {\wmfont shutu.cn}};
\end{tikzpicture}
\end{document}
